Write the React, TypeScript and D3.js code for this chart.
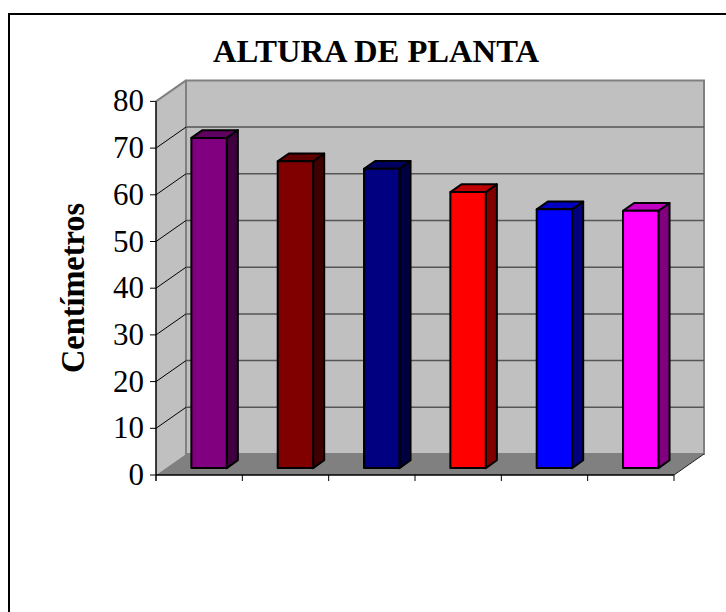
import React from "react";
import * as d3 from "d3";

const categories = ["1", "2", "3", "4", "5", "6"];
const values = [70.7, 65.7, 64.1, 59.1, 55.4, 55.1];
const frontColors = ["#800080", "#800000", "#000080", "#FF0000", "#0000FF", "#FF00FF"];
const topColors = ["#600060", "#600000", "#000060", "#C00000", "#0000C0", "#C000C0"];
const sideColors = ["#400040", "#400000", "#000040", "#800000", "#000080", "#800080"];
const yTicks = [0, 10, 20, 30, 40, 50, 60, 70, 80];
const title = "ALTURA DE PLANTA";
const yLabel = "Centímetros";

const DX = 30;
const DY = -21;
const FONT = "'Liberation Serif', 'Times New Roman', Times, serif";

export default function App() {
  const x0 = 156, x1 = 674;
  const y = d3.scaleLinear().domain([0, 80]).range([475, 101.4]);
  const x = d3.scaleBand<string>().domain(categories).range([x0, x1]).paddingInner(0.59).paddingOuter(0.295);
  const step = x.step();
  const d0 = 0.33, d1 = 0.7;
  const P = (px: number, py: number, d: number) => [px + DX * d, py + DY * d];
  const pts = (arr: number[][]) => arr.map((p) => p.join(",")).join(" ");

  const yTop = y(80), yBot = y(0);
  const sideWall = pts([[x0, yBot], [x0, yTop], P(x0, yTop, 1), P(x0, yBot, 1)]);
  const backWall = pts([P(x0, yTop, 1), P(x1, yTop, 1), P(x1, yBot, 1), P(x0, yBot, 1)]);
  const floor = pts([[x0, yBot], [x1, yBot], P(x1, yBot, 1), P(x0, yBot, 1)]);

  return (
    <svg width={726} height={612} style={{ position: "absolute", left: 0, top: 0, background: "#fff" }}>
      <rect x={9} y={14} width={800} height={700} fill="#fff" stroke="#000" strokeWidth={2} />
      <text x={376} y={62} textAnchor="middle" fontFamily={FONT} fontWeight="bold" fontSize={31} textLength={326} lengthAdjust="spacingAndGlyphs">{title}</text>
      <text transform={`translate(84,288) rotate(-90)`} textAnchor="middle" fontFamily={FONT} fontWeight="bold" fontSize={34} textLength={170} lengthAdjust="spacingAndGlyphs">{yLabel}</text>

      <polygon points={sideWall} fill="#C0C0C0" />
      <polygon points={backWall} fill="#C0C0C0" stroke="#808080" strokeWidth={2} />
      <polygon points={floor} fill="#808080" />
      <line x1={x0} y1={yTop} x2={x0 + DX} y2={yTop + DY} stroke="#808080" strokeWidth={2} />
      {yTicks.filter((t) => t > 0 && t < 80).map((t) => (
        <g key={t}>
          <line x1={x0 + DX} x2={x1 + DX} y1={y(t) + DY} y2={y(t) + DY} stroke="#555" strokeWidth={1.5} />
          <line x1={x0} y1={y(t)} x2={x0 + DX} y2={y(t) + DY} stroke="#000" strokeWidth={1} />
        </g>
      ))}
      <line x1={x1} y1={yBot} x2={x1 + DX} y2={yBot + DY} stroke="#222" strokeWidth={1} />

      {categories.map((c, i) => {
        const bx = x(c)!;
        const bw = x.bandwidth();
        const v = values[i];
        const fl = [bx, y(v)], fr = [bx + bw, y(v)];
        const bl = [bx, y(0)], br = [bx + bw, y(0)];
        const front = [P(fl[0], fl[1], d0), P(fr[0], fr[1], d0), P(br[0], br[1], d0), P(bl[0], bl[1], d0)];
        const top = [P(fl[0], fl[1], d0), P(fr[0], fr[1], d0), P(fr[0], fr[1], d1), P(fl[0], fl[1], d1)];
        const side = [P(fr[0], fr[1], d0), P(fr[0], fr[1], d1), P(br[0], br[1], d1), P(br[0], br[1], d0)];
        return (
          <g key={c} stroke="#000" strokeWidth={2} strokeLinejoin="round">
            <polygon points={pts(side)} fill={sideColors[i]} />
            <polygon points={pts(top)} fill={topColors[i]} />
            <polygon points={pts(front)} fill={frontColors[i]} />
          </g>
        );
      })}

      <line x1={x0} x2={x0} y1={yTop} y2={yBot + 6} stroke="#000" strokeWidth={1.5} />
      <line x1={x0} x2={x1} y1={yBot} y2={yBot} stroke="#000" strokeWidth={1.5} />
      {categories.map((c, i) => {
        const xt = x0 + step * (i + 1);
        return <line key={c} x1={xt} x2={xt} y1={yBot} y2={yBot + 6} stroke="#000" strokeWidth={1} />;
      })}
      {yTicks.map((t) => (
        <g key={t}>
          <line x1={x0 - 6} x2={x0} y1={y(t)} y2={y(t)} stroke="#000" strokeWidth={1} />
          <text x={144} y={y(t) + 10} textAnchor="end" fontFamily={FONT} fontSize={31} textLength={String(t).length * 15.5} lengthAdjust="spacingAndGlyphs">{t}</text>
        </g>
      ))}
    </svg>
  );
}
